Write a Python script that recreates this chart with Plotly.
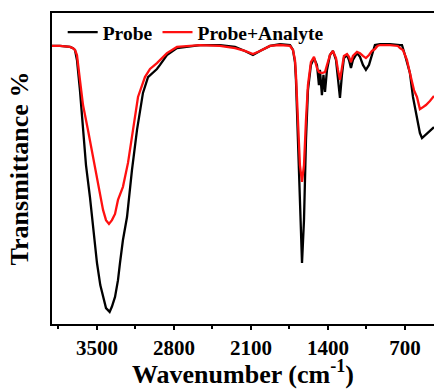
import plotly.graph_objects as go

probe_points = [
    (3909, 89.4), (3836, 89.4), (3745, 89.1), (3718, 88.7), (3700, 88.1), (3682, 84.9),
    (3655, 75.2), (3627, 62.4), (3600, 51.1), (3564, 40.8), (3530, 30.2), (3500, 19.6),
    (3470, 12.5), (3445, 8.7), (3418, 5.1), (3385, 3.9), (3364, 5.6), (3336, 8.7),
    (3309, 14.1), (3291, 19.6), (3264, 27.0), (3227, 34.4), (3182, 49.5), (3136, 62.4),
    (3082, 74.3), (3036, 79.4), (2991, 80.7), (2955, 82.0), (2927, 83.3), (2864, 86.5),
    (2773, 88.7), (2627, 89.4), (2564, 89.7), (2382, 89.7), (2245, 89.1), (2155, 87.8),
    (2082, 86.5), (2018, 87.8), (1927, 89.4), (1836, 90.0), (1745, 89.7), (1718, 88.1),
    (1700, 84.2), (1691, 78.5), (1673, 59.2), (1655, 33.4), (1636, 19.6), (1618, 33.4),
    (1600, 59.2), (1582, 75.2), (1555, 83.3), (1527, 85.5), (1500, 83.3), (1482, 76.8),
    (1473, 81.7), (1455, 73.6), (1441, 80.1), (1427, 74.6), (1409, 81.7), (1382, 86.5),
    (1355, 87.8), (1327, 84.9), (1309, 78.5), (1291, 72.7), (1273, 80.1), (1255, 85.5),
    (1227, 86.5), (1209, 84.9), (1191, 82.3), (1173, 84.9), (1136, 87.1), (1109, 85.9),
    (1082, 83.3), (1055, 81.7), (1027, 83.3), (1000, 86.5), (973, 89.7), (927, 90.0),
    (836, 90.0), (745, 89.7), (727, 89.7), (700, 86.5), (682, 84.2), (655, 80.7),
    (627, 73.0), (591, 65.6), (564, 61.4), (545, 59.8), (509, 60.8), (473, 62.1), (436, 63.3),
]

analyte_points = [
    (3909, 89.4), (3836, 89.4), (3745, 89.1), (3718, 88.7), (3700, 88.1), (3682, 86.5),
    (3655, 78.5), (3627, 70.4), (3582, 62.4), (3540, 54.3), (3500, 46.3), (3445, 36.7),
    (3418, 33.4), (3391, 32.2), (3364, 33.4), (3336, 35.4), (3309, 39.9), (3264, 44.1),
    (3218, 51.8), (3173, 62.4), (3127, 73.0), (3064, 79.4), (3018, 82.0), (2955, 83.9),
    (2864, 87.1), (2773, 89.1), (2627, 89.4), (2564, 89.7), (2382, 89.4), (2245, 88.7),
    (2155, 87.8), (2082, 86.8), (2018, 87.8), (1927, 89.4), (1836, 89.7), (1745, 89.4),
    (1718, 88.1), (1700, 84.9), (1691, 80.1), (1673, 65.6), (1655, 51.1), (1636, 45.7),
    (1618, 51.1), (1600, 65.6), (1582, 76.8), (1555, 84.2), (1527, 85.9), (1500, 82.3),
    (1482, 81.0), (1455, 80.7), (1427, 81.0), (1409, 83.3), (1382, 86.5), (1355, 87.8),
    (1327, 85.5), (1309, 81.7), (1291, 78.5), (1273, 82.3), (1255, 86.2), (1227, 86.8),
    (1209, 85.9), (1191, 84.2), (1173, 86.2), (1136, 87.5), (1109, 87.1), (1082, 86.2),
    (1055, 85.5), (1027, 86.5), (1000, 87.8), (973, 88.4), (950, 89.4), (927, 89.7),
    (836, 89.7), (764, 89.4), (745, 88.7), (718, 88.1), (682, 84.9), (655, 80.7),
    (618, 75.2), (591, 73.0), (564, 69.1), (545, 69.5), (509, 70.4), (473, 71.7), (436, 73.3),
]

series_names = ["Probe", "Probe+Analyte"]
series_colors = ["#000000", "#ff1010"]
tick_values = [3500, 2800, 2100, 1400, 700]
minor_values = [3850, 3150, 2450, 1750, 1050]

FONT = "Liberation Serif, Times New Roman, serif"

fig = go.Figure()
for name, color, pts in zip(series_names, series_colors, [probe_points, analyte_points]):
    fig.add_trace(go.Scatter(
        x=[p[0] for p in pts], y=[p[1] for p in pts], mode="lines", name=name,
        line=dict(color=color, width=2.3),
    ))

fig.update_layout(
    width=434, height=389,
    margin=dict(l=52, r=0, t=13, b=65),
    paper_bgcolor="white", plot_bgcolor="white",
    font=dict(family=FONT, color="black", weight="bold"),
    showlegend=True,
    legend=dict(
        orientation="h", x=0.028, y=1.0, xanchor="left", yanchor="top",
        font=dict(family=FONT, size=19.5, weight="bold"),
        bgcolor="rgba(0,0,0,0)", itemwidth=30, tracegroupgap=0,
    ),
)
fig.update_xaxes(
    range=[3909, 436], tickvals=tick_values, ticktext=[str(v) for v in tick_values],
    showline=True, linecolor="black", linewidth=1.5, mirror=True,
    ticks="outside", ticklen=4, tickwidth=1.5, tickcolor="black",
    minor=dict(tickvals=minor_values, ticks="outside", ticklen=3, tickwidth=1.5, tickcolor="black"),
    tickfont=dict(family=FONT, size=21, weight="bold"),
    showgrid=False, zeroline=False,
    title=dict(text="Wavenumber (cm<sup>-1</sup>)", font=dict(family=FONT, size=26, weight="bold"), standoff=6),
)
fig.update_yaxes(
    range=[0, 100], showticklabels=False, ticks="",
    showline=True, linecolor="black", linewidth=1.5, mirror=False,
    showgrid=False, zeroline=False,
    title=dict(text="Transmittance %", font=dict(family=FONT, size=26, weight="bold"), standoff=14),
)

fig.write_html("out.html")
